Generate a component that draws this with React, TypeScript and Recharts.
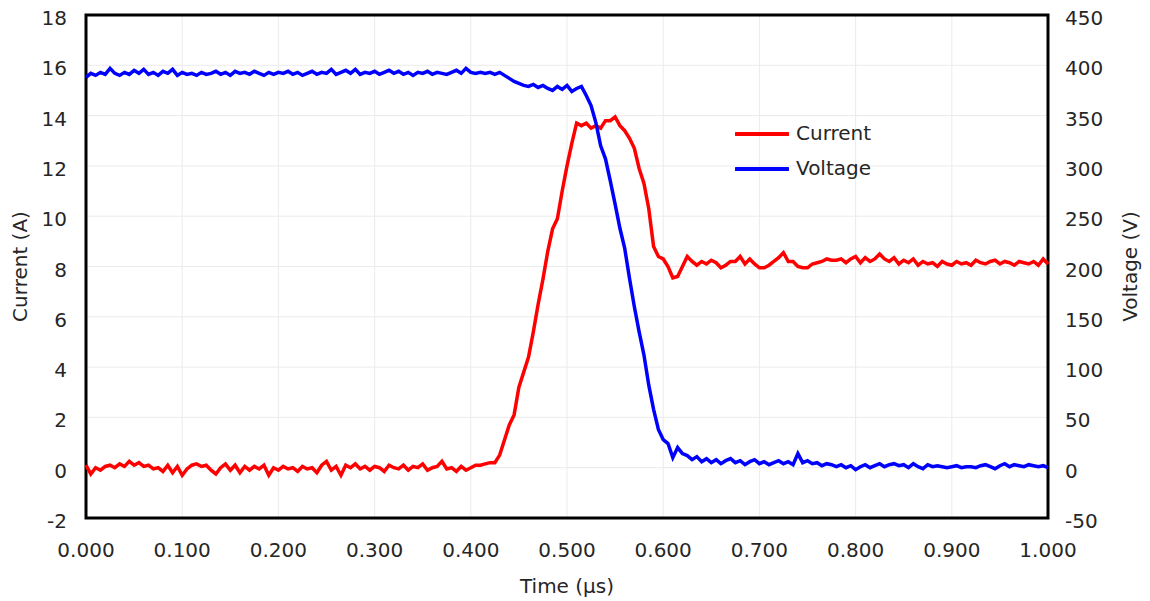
import React from 'react';
import { ComposedChart, Line, XAxis, YAxis, CartesianGrid, ReferenceArea, Legend } from 'recharts';

const times = [
  0.000, 0.005, 0.010, 0.015, 0.020, 0.025, 0.030, 0.035, 0.040, 0.045,
  0.050, 0.055, 0.060, 0.065, 0.070, 0.075, 0.080, 0.085, 0.090, 0.095,
  0.100, 0.105, 0.110, 0.115, 0.120, 0.125, 0.130, 0.135, 0.140, 0.145,
  0.150, 0.155, 0.160, 0.165, 0.170, 0.175, 0.180, 0.185, 0.190, 0.195,
  0.200, 0.205, 0.210, 0.215, 0.220, 0.225, 0.230, 0.235, 0.240, 0.245,
  0.250, 0.255, 0.260, 0.265, 0.270, 0.275, 0.280, 0.285, 0.290, 0.295,
  0.300, 0.305, 0.310, 0.315, 0.320, 0.325, 0.330, 0.335, 0.340, 0.345,
  0.350, 0.355, 0.360, 0.365, 0.370, 0.375, 0.380, 0.385, 0.390, 0.395,
  0.400, 0.405, 0.410, 0.415, 0.420, 0.425, 0.430, 0.435, 0.440, 0.445,
  0.450, 0.455, 0.460, 0.465, 0.470, 0.475, 0.480, 0.485, 0.490, 0.495,
  0.500, 0.505, 0.510, 0.515, 0.520, 0.525, 0.530, 0.535, 0.540, 0.545,
  0.550, 0.555, 0.560, 0.565, 0.570, 0.575, 0.580, 0.585, 0.590, 0.595,
  0.600, 0.605, 0.610, 0.615, 0.620, 0.625, 0.630, 0.635, 0.640, 0.645,
  0.650, 0.655, 0.660, 0.665, 0.670, 0.675, 0.680, 0.685, 0.690, 0.695,
  0.700, 0.705, 0.710, 0.715, 0.720, 0.725, 0.730, 0.735, 0.740, 0.745,
  0.750, 0.755, 0.760, 0.765, 0.770, 0.775, 0.780, 0.785, 0.790, 0.795,
  0.800, 0.805, 0.810, 0.815, 0.820, 0.825, 0.830, 0.835, 0.840, 0.845,
  0.850, 0.855, 0.860, 0.865, 0.870, 0.875, 0.880, 0.885, 0.890, 0.895,
  0.900, 0.905, 0.910, 0.915, 0.920, 0.925, 0.930, 0.935, 0.940, 0.945,
  0.950, 0.955, 0.960, 0.965, 0.970, 0.975, 0.980, 0.985, 0.990, 0.995,
  1.000,
];

const currentA = [
  0.1, -0.25, 0.0, -0.1, 0.05, 0.1, 0.0, 0.15, 0.05, 0.25,
  0.1, 0.2, 0.05, 0.1, -0.05, 0.0, -0.15, 0.1, -0.2, 0.05,
  -0.3, -0.05, 0.1, 0.15, 0.05, 0.1, -0.1, -0.25, 0.0, 0.15,
  -0.1, 0.1, -0.2, 0.05, -0.1, 0.05, -0.05, 0.1, -0.3, 0.0,
  -0.1, 0.05, -0.05, 0.0, -0.15, 0.05, -0.05, 0.0, -0.2, 0.1,
  0.25, -0.1, 0.05, -0.3, 0.1, 0.0, 0.15, -0.05, 0.05, -0.1,
  0.05, 0.0, -0.15, 0.1, 0.0, -0.05, 0.1, -0.1, 0.05, 0.0,
  0.15, -0.1, 0.0, 0.05, 0.25, -0.05, 0.0, -0.15, 0.05, -0.1,
  0.0, 0.1, 0.1, 0.15, 0.2, 0.2, 0.5, 1.1, 1.7, 2.1,
  3.2, 3.8, 4.4, 5.4, 6.5, 7.5, 8.6, 9.5, 9.9, 11.0,
  12.0, 12.9, 13.7, 13.6, 13.7, 13.5, 13.6, 13.5, 13.8, 13.8,
  13.95, 13.6, 13.4, 13.1, 12.7, 11.9, 11.3, 10.3, 8.8, 8.4,
  8.3, 8.0, 7.55, 7.6, 8.0, 8.4, 8.2, 8.05, 8.2, 8.1,
  8.25, 8.15, 7.95, 8.05, 8.2, 8.2, 8.4, 8.1, 8.3, 8.1,
  7.95, 7.95, 8.05, 8.2, 8.35, 8.55, 8.2, 8.2, 8.0, 7.95,
  7.95, 8.1, 8.15, 8.2, 8.3, 8.25, 8.25, 8.3, 8.15, 8.3,
  8.4, 8.15, 8.35, 8.2, 8.3, 8.5, 8.3, 8.2, 8.35, 8.1,
  8.25, 8.15, 8.3, 8.05, 8.2, 8.1, 8.15, 8.0, 8.2, 8.1,
  8.05, 8.2, 8.1, 8.15, 8.05, 8.25, 8.15, 8.1, 8.2, 8.25,
  8.1, 8.2, 8.15, 8.05, 8.2, 8.15, 8.1, 8.2, 8.05, 8.3,
  8.1,
];

const voltageV = [
  388, 392, 390, 393, 391, 397, 392, 390, 393, 391,
  395, 392, 396, 391, 393, 390, 394, 392, 396, 390,
  393, 391, 392, 390, 393, 391, 392, 394, 391, 393,
  390, 394, 392, 393, 391, 394, 392, 390, 393, 391,
  393, 392, 394, 391, 393, 390, 392, 394, 391, 393,
  392, 396, 391, 393, 395, 392, 396, 391, 393, 392,
  394, 391, 393, 395, 392, 394, 391, 393, 390, 393,
  392, 394, 391, 393, 392, 391, 393, 395, 392, 397,
  393, 392, 393, 392, 393, 391, 393, 390, 387, 384,
  382, 380, 379, 381, 378, 380, 377, 375, 379, 376,
  380, 374, 377, 379, 370, 360, 343, 320, 307, 285,
  262, 238, 218, 188, 160, 135, 112, 82, 58, 38,
  28, 24, 10, 20, 14, 12, 8, 11, 6, 9,
  5, 8, 4, 7, 9, 5, 7, 3, 6, 8,
  4, 6, 3, 5, 7, 4, 6, 3, 14, 5,
  7, 4, 5, 2, 4, 3, 1, 3, 0, 2,
  -2, 1, 3, 0, 2, 4, 1, 3, 4, 2,
  3, 0, 4, 1, -1, 3, 1, 2, 1, 0,
  1, 2, 0, 1, 1, 0, 2, 3, 1, -1,
  2, 4, 1, 3, 2, 1, 3, 2, 1, 2,
  0,
];

const xTicks = [0, 0.1, 0.2, 0.3, 0.4, 0.5, 0.6, 0.7, 0.8, 0.9, 1.0];
const leftTicks = [-2, 0, 2, 4, 6, 8, 10, 12, 14, 16, 18];
const rightTicks = [-50, 0, 50, 100, 150, 200, 250, 300, 350, 400, 450];

const data = times.map((t, i) => ({ t, current: currentA[i], voltage: voltageV[i] }));

const FONT = '"DejaVu Sans", Verdana, sans-serif';
const TEXT = '#262626';

const makeYTick = (anchor: 'start' | 'end') => (props: any) => {
  const { x, y, payload } = props;
  return (
    <text x={x} y={y + 3} textAnchor={anchor} dominantBaseline="central" fontSize={20} fill={TEXT} fontFamily={FONT}>
      {payload.value}
    </text>
  );
};

const renderLegend = (props: any) => {
  const payload = props.payload || [];
  return (
    <div style={{ fontFamily: FONT, fontSize: 20, color: TEXT }}>
      {payload.map((p: any) => (
        <div key={p.value} style={{ display: 'flex', alignItems: 'center', height: 35 }}>
          <svg width={54} height={6} style={{ display: 'block' }}>
            <line x1={1} y1={3} x2={53} y2={3} stroke={p.color} strokeWidth={4} strokeLinecap="round" />
          </svg>
          <span style={{ marginLeft: 7, lineHeight: '35px' }}>{p.value}</span>
        </div>
      ))}
    </div>
  );
};

export default function App() {
  return (
    <div style={{ marginTop: -8, width: 1134, height: 601 }}>
      <ComposedChart
        width={1134}
        height={601}
        data={data}
        margin={{ top: 15, right: 0, bottom: 8, left: 0 }}
        style={{ fontFamily: FONT }}
      >
        <CartesianGrid yAxisId="left" stroke="#ebebeb" strokeWidth={1} />
        <XAxis
          dataKey="t"
          type="number"
          domain={[0, 1]}
          ticks={xTicks}
          interval={0}
          tickFormatter={(v: number) => v.toFixed(3)}
          axisLine={false}
          tickLine={false}
          tickSize={0}
          tickMargin={25}
          height={75}
          tick={{ fontSize: 20, fill: TEXT, fontFamily: FONT }}
          label={{ value: 'Time (µs)', position: 'insideBottom', offset: 0, style: { fontSize: 20, fill: TEXT, fontFamily: FONT } }}
        />
        <YAxis
          yAxisId="left"
          orientation="left"
          domain={[-2, 18]}
          ticks={leftTicks}
          interval={0}
          axisLine={false}
          tickLine={false}
          tickSize={0}
          tickMargin={19}
          width={78}
          tick={makeYTick('end')}
          label={{ value: 'Current (A)', angle: -90, position: 'insideLeft', offset: 12, style: { textAnchor: 'middle', fontSize: 20, fill: TEXT, fontFamily: FONT } }}
        />
        <YAxis
          yAxisId="right"
          orientation="right"
          domain={[-50, 450]}
          ticks={rightTicks}
          interval={0}
          axisLine={false}
          tickLine={false}
          tickSize={0}
          tickMargin={17}
          width={94}
          tick={makeYTick('start')}
          label={{ value: 'Voltage (V)', angle: -90, position: 'insideRight', offset: 12, style: { textAnchor: 'middle', fontSize: 20, fill: TEXT, fontFamily: FONT } }}
        />
        <ReferenceArea
          yAxisId="left"
          x1={0}
          x2={1}
          y1={-2}
          y2={18}
          fill="none"
          fillOpacity={0}
          stroke="#000"
          strokeWidth={3}
          ifOverflow="visible"
        />
        <Legend
          layout="vertical"
          align="center"
          verticalAlign="middle"
          content={renderLegend}
          wrapperStyle={{ left: 727, top: 116, width: 160 }}
        />
        <Line
          yAxisId="left"
          type="linear"
          dataKey="current"
          name="Current"
          stroke="#ff0000"
          strokeWidth={3.5}
          dot={false}
          isAnimationActive={false}
        />
        <Line
          yAxisId="right"
          type="linear"
          dataKey="voltage"
          name="Voltage"
          stroke="#0000ff"
          strokeWidth={3.5}
          dot={false}
          isAnimationActive={false}
        />
      </ComposedChart>
    </div>
  );
}
